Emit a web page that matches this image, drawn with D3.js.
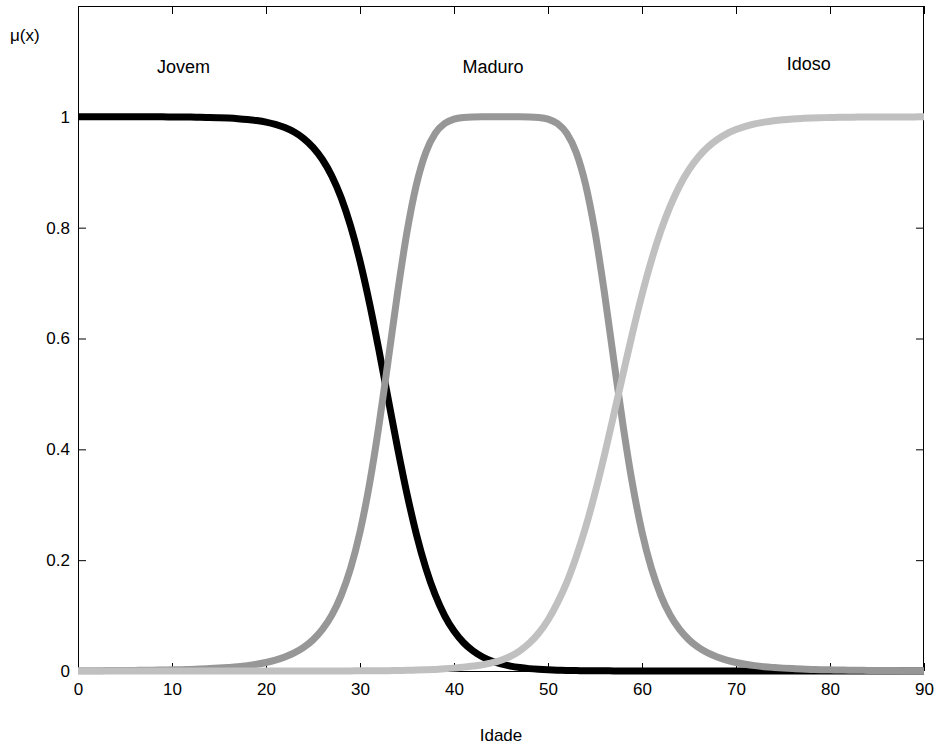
<!DOCTYPE html>
<html>
<head>
<meta charset="utf-8">
<script src="https://cdn.jsdelivr.net/npm/d3@7"></script>
<style>
  html, body { margin: 0; padding: 0; background: #fff; }
  svg { display: block; font-family: "Liberation Sans", Arial, Helvetica, sans-serif; }
</style>
</head>
<body>
<svg id="chart" width="938" height="747"></svg>
<script>
// ---------------- data ----------------
const ages = d3.range(0, 91); // 0..90, step 1 (Idade)

const jovem = [
  1.0000, 1.0000, 1.0000, 1.0000, 1.0000, 1.0000, 1.0000, 1.0000, 1.0000, 1.0000,
  0.9997, 0.9996, 0.9995, 0.9992, 0.9989, 0.9984, 0.9977, 0.9967, 0.9953, 0.9933,
  0.9905, 0.9864, 0.9806, 0.9725, 0.9610, 0.9450, 0.9230, 0.8933, 0.8538, 0.8028,
  0.7396, 0.6646, 0.5803, 0.4910, 0.4023, 0.3195, 0.2467, 0.1860, 0.1375, 0.1001,
  0.0720, 0.0514, 0.0364, 0.0257, 0.0181, 0.0127, 0.0089, 0.0062, 0.0043, 0.0030,
  0.0021, 0.0015, 0.0010, 0.0007, 0.0005, 0.0004, 0.0003, 0.0002, 0.0001, 0.0001,
  0, 0, 0, 0, 0, 0, 0, 0, 0, 0,
  0, 0, 0, 0, 0, 0, 0, 0, 0, 0,
  0, 0, 0, 0, 0, 0, 0, 0, 0, 0,
  0
];

const maduro = [
  0.0005, 0.0005, 0.0006, 0.0007, 0.0008, 0.0009, 0.0011, 0.0012, 0.0015, 0.0017,
  0.0021, 0.0024, 0.0029, 0.0035, 0.0043, 0.0052, 0.0064, 0.0078, 0.0097, 0.0122,
  0.0154, 0.0196, 0.0253, 0.0326, 0.0426, 0.0562, 0.0750, 0.1008, 0.1365, 0.1853,
  0.2509, 0.3363, 0.4414, 0.5609, 0.6829, 0.7923, 0.8777, 0.9357, 0.9701, 0.9879,
  0.9959, 0.9989, 0.9998, 1.0000, 1.0000, 1.0000, 1.0000, 1.0000, 0.9998, 0.9989,
  0.9959, 0.9879, 0.9701, 0.9357, 0.8777, 0.7923, 0.6829, 0.5609, 0.4414, 0.3363,
  0.2509, 0.1853, 0.1365, 0.1008, 0.0750, 0.0562, 0.0426, 0.0326, 0.0253, 0.0196,
  0.0154, 0.0122, 0.0097, 0.0078, 0.0064, 0.0052, 0.0043, 0.0035, 0.0029, 0.0024,
  0.0021, 0.0017, 0.0015, 0.0012, 0.0011, 0.0009, 0.0008, 0.0007, 0.0006, 0.0005,
  0.0005
];

const idoso = [
  0, 0, 0, 0, 0, 0, 0, 0, 0, 0,
  0, 0, 0, 0, 0, 0, 0, 0, 0, 0,
  0, 0, 0, 0, 0, 0.0001, 0.0001, 0.0001, 0.0002, 0.0002,
  0.0003, 0.0004, 0.0005, 0.0006, 0.0009, 0.0012, 0.0016, 0.0021, 0.0029, 0.0039,
  0.0052, 0.0070, 0.0090, 0.0110, 0.0145, 0.0195, 0.0265, 0.0365, 0.0500, 0.0680,
  0.0920, 0.1230, 0.1600, 0.2059, 0.2592, 0.3208, 0.3894, 0.4626, 0.5374, 0.6106,
  0.6792, 0.7408, 0.7941, 0.8389, 0.8755, 0.9047, 0.9276, 0.9453, 0.9589, 0.9693,
  0.9770, 0.9829, 0.9873, 0.9905, 0.9930, 0.9948, 0.9961, 0.9971, 0.9979, 0.9984,
  0.9988, 0.9991, 0.9994, 0.9995, 0.9996, 0.9997, 0.9998, 0.9998, 0.9999, 0.9999,
  1.0000
];

const seriesNames = ["Jovem", "Maduro", "Idoso"];
const xTickValues = [0, 10, 20, 30, 40, 50, 60, 70, 80, 90];
const xTickLabels = ["0", "10", "20", "30", "40", "50", "60", "70", "80", "90"];
const yTickValues = [0, 0.2, 0.4, 0.6, 0.8, 1];
const yTickLabels = ["0", "0.2", "0.4", "0.6", "0.8", "1"];
const xTitle = "Idade";
const yTitle = "\u03bc(x)";

// ---------------- layout ----------------
const svg = d3.select("#chart");
const mLeft = 78, mRight = 924, mTop = 6, mBottom = 671;
const x = d3.scaleLinear().domain([0, 90]).range([mLeft, mRight]);
const y = d3.scaleLinear().domain([0, 1.2]).range([mBottom, mTop]);

const colors = { "Jovem": "#000000", "Maduro": "#979797", "Idoso": "#c0c0c0" };
const labelPos = { "Jovem": [8.4, 1.08], "Maduro": [40.9, 1.08], "Idoso": [75.4, 1.085] };
const fontSize = 17;

// axes (drawn under the data, as in MATLAB)
const gx = svg.append("g").attr("transform", `translate(0,${mBottom})`)
  .call(d3.axisBottom(x).tickValues(xTickValues)
    .tickFormat((d, i) => xTickLabels[i]).tickSize(-8).tickPadding(12));
const gxTop = svg.append("g").attr("transform", `translate(0,${mTop})`)
  .call(d3.axisTop(x).tickValues(xTickValues).tickFormat("").tickSize(-8));
const gy = svg.append("g").attr("transform", `translate(${mLeft},0)`)
  .call(d3.axisLeft(y).tickValues(yTickValues)
    .tickFormat((d, i) => yTickLabels[i]).tickSize(-8).tickPadding(8));
const gyRight = svg.append("g").attr("transform", `translate(${mRight},0)`)
  .call(d3.axisRight(y).tickValues(yTickValues).tickFormat("").tickSize(-8));

[gx, gxTop, gy, gyRight].forEach(g => {
  g.select(".domain").remove();
  g.selectAll(".tick line").attr("stroke", "#000").attr("stroke-width", 1);
  g.selectAll(".tick text").attr("fill", "#000")
    .style("font-size", fontSize + "px")
    .style("font-family", '"Liberation Sans", Arial, sans-serif');
});

// box
svg.append("rect")
  .attr("x", mLeft + 0.5).attr("y", mTop + 0.5)
  .attr("width", mRight - mLeft - 1).attr("height", mBottom - mTop)
  .attr("fill", "none").attr("stroke", "#000").attr("stroke-width", 1);

// lines
const seriesData = { "Jovem": jovem, "Maduro": maduro, "Idoso": idoso };
const line = d3.line()
  .x((d, i) => x(ages[i]))
  .y(d => y(d))
  .curve(d3.curveMonotoneX);

seriesNames.forEach(name => {
  svg.append("path")
    .datum(seriesData[name])
    .attr("d", line)
    .attr("fill", "none")
    .attr("stroke", colors[name])
    .attr("stroke-width", 7)
    .attr("stroke-linejoin", "round");
});

// series labels
seriesNames.forEach(name => {
  svg.append("text")
    .attr("x", x(labelPos[name][0]))
    .attr("y", y(labelPos[name][1]))
    .attr("fill", "#000")
    .style("font-size", "18px")
    .text(name);
});

// axis titles
svg.append("text")
  .attr("x", 10).attr("y", 41)
  .style("font-size", fontSize + "px")
  .attr("fill", "#000")
  .text(yTitle);

svg.append("text")
  .attr("x", (mLeft + mRight) / 2).attr("y", 741)
  .attr("text-anchor", "middle")
  .style("font-size", fontSize + "px")
  .attr("fill", "#000")
  .text(xTitle);
</script>
</body>
</html>
